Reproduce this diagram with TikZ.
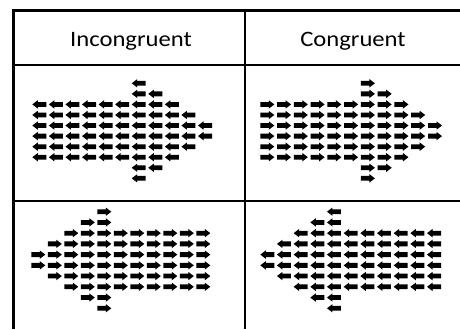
\documentclass[tikz,border=0pt]{standalone}
\usepackage{fontspec}
\setmainfont{Carlito}
\begin{document}
\begin{tikzpicture}[x=1pt,y=-1pt,
  rule/.style={line width=2.4pt},
  head/.style={anchor=base,font=\fontsize{22}{26}\selectfont,xscale=1.12},
  arr/.pic={\fill (-7,-2.4) -- (1.5,-2.4) -- (1.5,-4.2) -- (7,0) -- (1.5,4.2) -- (1.5,2.4) -- (-7,2.4) -- cycle;}
]
\useasboundingbox (0,0) rectangle (460,329);
% table rules
\draw[rule] (460,10.5) -- (13.3,10.5) -- (13.3,329);
\draw[rule] (13.3,64.7) -- (460,64.7);
\draw[rule] (13.3,200.7) -- (460,200.7);
\draw[rule] (245,10.5) -- (245,329);
% headers
\node[head] (h1) at (131,46.5) {Incongruent};
\node[head] (h2) at (353,46.5) {Congruent};
% top-left: right-pointing shape of left arrows
\foreach \c/\a/\b in {0/2/7,1/2/7,2/2/7,3/2/7,4/2/7,5/2/7,6/0/9,7/1/8,8/2/7,9/3/6,10/4/5}
  \foreach \r in {\a,...,\b}
    \pic[xscale=-1] at ({39.3+16.57*\c},{83.3+10.56*\r}) {arr};
% top-right: right-pointing shape of right arrows
\foreach \c/\a/\b in {0/2/7,1/2/7,2/2/7,3/2/7,4/2/7,5/2/7,6/0/9,7/1/8,8/2/7,9/3/6,10/4/5}
  \foreach \r in {\a,...,\b}
    \pic at ({267.3+16.77*\c},{83.3+10.56*\r}) {arr};
% bottom-left: left-pointing shape of right arrows
\foreach \c/\a/\b in {0/4/5,1/3/6,2/2/7,3/1/8,4/0/9,5/2/7,6/2/7,7/2/7,8/2/7,9/2/7,10/2/7}
  \foreach \r in {\a,...,\b}
    \pic at ({38.3+16.5*\c},{211.7+10.73*\r}) {arr};
% bottom-right: left-pointing shape of left arrows
\foreach \c/\a/\b in {0/4/5,1/3/6,2/2/7,3/1/8,4/0/9,5/2/7,6/2/7,7/2/7,8/2/7,9/2/7,10/2/7}
  \foreach \r in {\a,...,\b}
    \pic[xscale=-1] at ({267.3+16.67*\c},{211.7+10.73*\r}) {arr};
\end{tikzpicture}
\end{document}
